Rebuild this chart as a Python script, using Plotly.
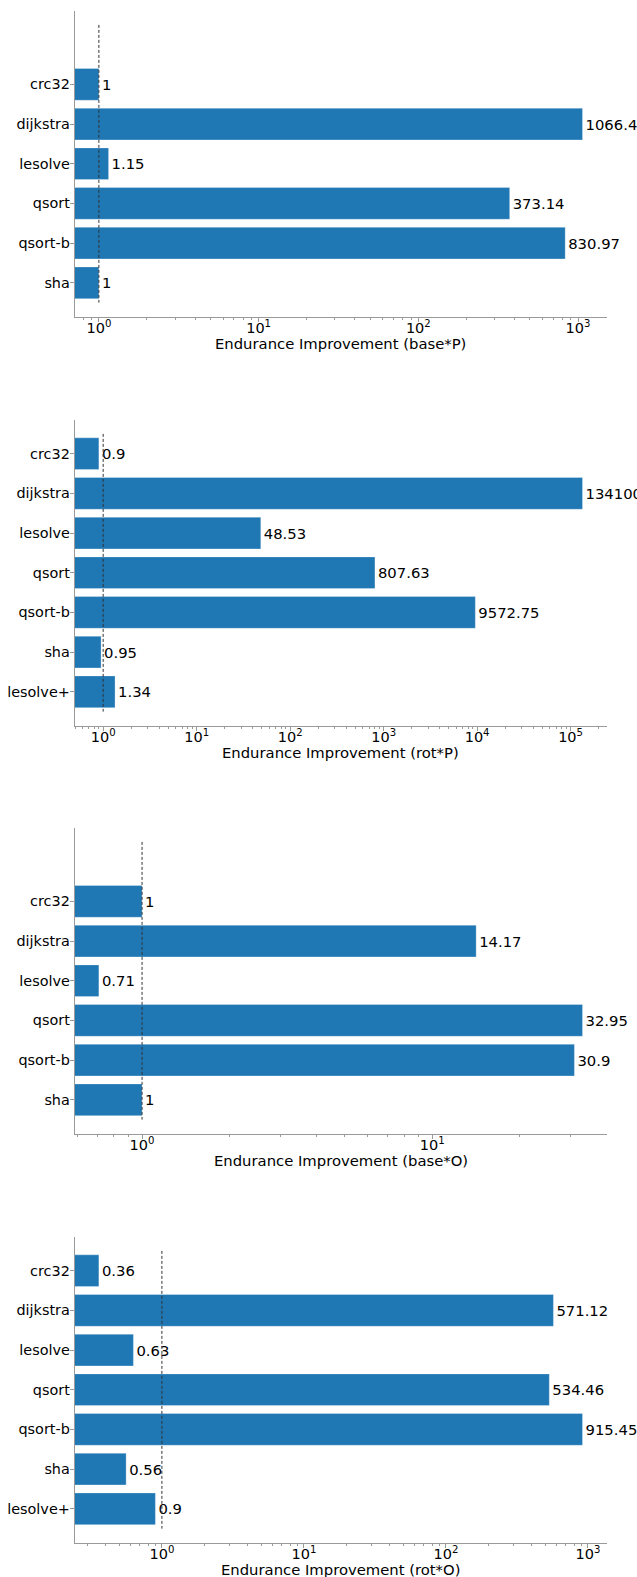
import math
import plotly.graph_objects as go

# Benchmarks (top to bottom in each panel)
benchmarks_6 = ["crc32", "dijkstra", "lesolve", "qsort", "qsort-b", "sha"]
benchmarks_7 = ["crc32", "dijkstra", "lesolve", "qsort", "qsort-b", "sha", "lesolve+"]

# Endurance improvement per configuration
base_p = [1, 1066.4, 1.15, 373.14, 830.97, 1]
rot_p = [0.9, 134100, 48.53, 807.63, 9572.75, 0.95, 1.34]
base_o = [1, 14.17, 0.71, 32.95, 30.9, 1]
rot_o = [0.36, 571.12, 0.63, 534.46, 915.45, 0.56, 0.9]

# Decade tick positions and their labels
ticks_base_p = [1, 10, 100, 1000]
ticklabels_base_p = ["10<sup>0</sup>", "10<sup>1</sup>", "10<sup>2</sup>", "10<sup>3</sup>"]
ticks_rot_p = [1, 10, 100, 1000, 10000, 100000]
ticklabels_rot_p = ["10<sup>0</sup>", "10<sup>1</sup>", "10<sup>2</sup>", "10<sup>3</sup>",
                    "10<sup>4</sup>", "10<sup>5</sup>"]
ticks_base_o = [1, 10]
ticklabels_base_o = ["10<sup>0</sup>", "10<sup>1</sup>"]
ticks_rot_o = [1, 10, 100, 1000]
ticklabels_rot_o = ["10<sup>0</sup>", "10<sup>1</sup>", "10<sup>2</sup>", "10<sup>3</sup>"]

# Vertical extent of the break-even reference line (in bar-index units)
ref_span_6 = [-1.5, 5.5]
ref_span_7 = [-0.5, 6.5]

panels = [
    dict(cats=benchmarks_6, vals=base_p, ticks=ticks_base_p, labels=ticklabels_base_p,
         ref=ref_span_6, title="Endurance Improvement (base*P)"),
    dict(cats=benchmarks_7, vals=rot_p, ticks=ticks_rot_p, labels=ticklabels_rot_p,
         ref=ref_span_7, title="Endurance Improvement (rot*P)"),
    dict(cats=benchmarks_6, vals=base_o, ticks=ticks_base_o, labels=ticklabels_base_o,
         ref=ref_span_6, title="Endurance Improvement (base*O)"),
    dict(cats=benchmarks_7, vals=rot_o, ticks=ticks_rot_o, labels=ticklabels_rot_o,
         ref=ref_span_7, title="Endurance Improvement (rot*O)"),
]

W, H = 637, 1577
x_left, x_right = 74.7, 606.7
panel_tops = [11, 420, 828, 1237]
panel_height = 305.5
title_offset = 27  # px below each x axis line

BAR = "#1f77b4"
SPINE = "#9a9a9a"
FONT = "DejaVu Sans"

fig = go.Figure()
layout = dict(
    width=W, height=H,
    margin=dict(l=0, r=0, t=0, b=0, autoexpand=False),
    paper_bgcolor="white", plot_bgcolor="white",
    font=dict(family=FONT, color="black", size=15),
    showlegend=False,
)
annotations = []

for i, p in enumerate(panels, start=1):
    xa = "x" if i == 1 else f"x{i}"
    ya = "y" if i == 1 else f"y{i}"
    n = len(p["cats"])
    idx = list(range(n))

    fig.add_trace(go.Bar(
        x=p["vals"], y=idx, orientation="h", width=0.8,
        marker=dict(color=BAR, line=dict(color="rgba(255,255,255,0.5)", width=0.6)),
        text=[f"{v:g}" for v in p["vals"]], textposition="outside",
        textfont=dict(family=FONT, size=14.8, color="black"),
        constraintext="none", cliponaxis=False,
        xaxis=xa, yaxis=ya, hoverinfo="skip",
    ))
    fig.add_trace(go.Scatter(
        x=[1, 1], y=p["ref"], mode="lines",
        line=dict(color="#333333", width=1, dash="3px,2px"),
        xaxis=xa, yaxis=ya, hoverinfo="skip",
    ))

    # log-scale limits with a 5% margin around the data, like the default autoscale
    lv = [math.log10(v) for v in p["vals"]]
    lo, hi = min(lv), max(lv)
    pad = 0.05 * (hi - lo)
    ylo, yhi = p["ref"]
    ypad = 0.05 * (yhi - ylo)

    top = panel_tops[i - 1]
    bottom = top + panel_height
    xdom = [x_left / W, x_right / W]
    ydom = [1 - bottom / H, 1 - top / H]

    layout["xaxis" if i == 1 else f"xaxis{i}"] = dict(
        type="log", domain=xdom, anchor=ya, range=[lo - pad, hi + pad],
        automargin=False,
        showgrid=False, zeroline=False, showline=True, linecolor=SPINE, linewidth=1,
        ticks="outside", ticklen=4, tickwidth=1, tickcolor=SPINE,
        tickmode="array", tickvals=p["ticks"], ticktext=p["labels"],
        tickfont=dict(family=FONT, size=14.5, color="black"),
        ticklabelstandoff=-6,
        minor=dict(ticks="outside", ticklen=2, tickwidth=0.8, tickcolor=SPINE, dtick="D1",
                   showgrid=False),
        fixedrange=True,
    )
    layout["yaxis" if i == 1 else f"yaxis{i}"] = dict(
        domain=ydom, anchor=xa, range=[yhi + ypad, ylo - ypad],
        automargin=False,
        showgrid=False, zeroline=False, showline=True, linecolor=SPINE, linewidth=1,
        ticks="outside", ticklen=4, tickwidth=1, tickcolor=SPINE,
        tickmode="array", tickvals=idx, ticktext=p["cats"],
        tickfont=dict(family=FONT, size=14.4, color="black"),
        ticklabelstandoff=-3,
        fixedrange=True,
    )
    annotations.append(dict(
        text=p["title"], xref="paper", yref="paper",
        x=(x_left + x_right) / 2 / W, y=1 - (bottom + title_offset) / H,
        xanchor="center", yanchor="middle", showarrow=False,
        font=dict(family=FONT, size=14.8, color="black"),
    ))

layout["annotations"] = annotations
fig.update_layout(**layout)
fig.write_html("out.html")
